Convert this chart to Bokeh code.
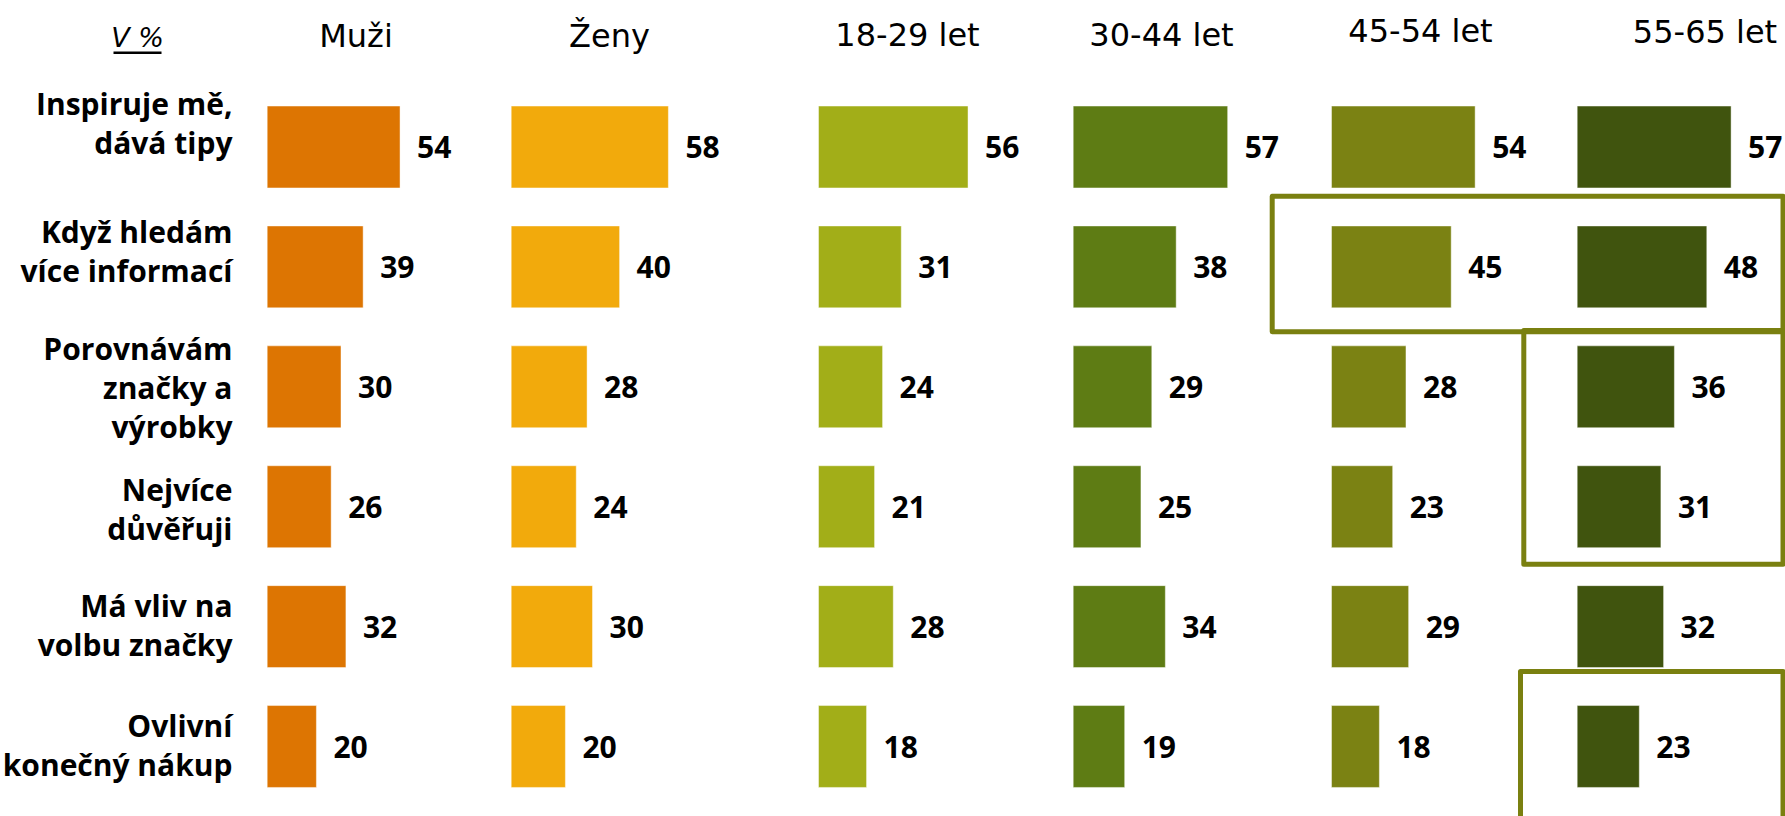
from bokeh.plotting import figure
from bokeh.models import Range1d
from bokeh.embed import file_html
from bokeh.resources import INLINE
from bokeh.core.properties import value

# ---------------- data ----------------
rows = [
    "Inspiruje mě,\ndává tipy",
    "Když hledám\nvíce informací",
    "Porovnávám\nznačky a\nvýrobky",
    "Nejvíce\ndůvěřuji",
    "Má vliv na\nvolbu značky",
    "Ovlivní\nkonečný nákup",
]
groups = ["Muži", "Ženy", "18-29 let", "30-44 let", "45-54 let", "55-65 let"]
muzi = [54, 39, 30, 26, 32, 20]
zeny = [58, 40, 28, 24, 30, 20]
age_18_29 = [56, 31, 24, 21, 28, 18]
age_30_44 = [57, 38, 29, 25, 34, 19]
age_45_54 = [54, 45, 28, 23, 29, 18]
age_55_65 = [57, 48, 36, 31, 32, 23]
series = [muzi, zeny, age_18_29, age_30_44, age_45_54, age_55_65]
unit_label = "V %"
# highlighted cells: (groups, row indices)
highlights = [
    (["45-54 let", "55-65 let"], [1]),
    (["55-65 let"], [2, 3]),
    (["55-65 let"], [5]),
]

# ---------------- layout / style ----------------
W, H = 1785, 816
ROW0, STEP = 146.5, 119.9
colors = ["#DD7502", "#F2AA0C", "#A2AE18", "#5E7C14", "#7B8213", "#40540E"]
box_color = "#7A8010"
col_start = [266.7, 510.7, 818.0, 1072.7, 1331.0, 1576.7]   # px where 0 sits
col_scale = [2.46, 2.71, 2.67, 2.71, 2.66, 2.70]            # px per percent
header_x = [355.5, 609.0, 907.0, 1161.0, 1420.0, 1704.5]
header_dy = [-0.925, -0.925, -0.935, -0.935, -0.97, -0.955]
label_dy = [-0.2, -0.13, 0.005, 0.02, -0.01, -0.01]
box_pad = [(59.3, 0.59, 0.54), (53.4, 0.47, 0.48), (56.7, 0.625, 0.75)]

BOLD_FONT = value("Open Sans")
REG_FONT = value("DejaVu Sans")

p = figure(width=W, height=H, output_backend="svg", toolbar_location=None,
           x_range=Range1d(0, W),
           y_range=Range1d((H - ROW0) / STEP, -ROW0 / STEP),
           min_border=0, outline_line_color=None)
p.axis.visible = False
p.grid.visible = False
p.background_fill_color = "white"
p.border_fill_color = "white"

idx = list(range(len(rows)))

for g, vals, c, s, k in zip(groups, series, colors, col_start, col_scale):
    p.extra_x_ranges[g] = Range1d(-s / k, (W - s) / k)
    p.hbar(y=idx, left=0, right=vals, height=0.683, x_range_name=g,
           fill_color=c, line_color="white", line_alpha=0.45, line_width=1)
    p.text(x=vals, y=idx, text=[str(v) for v in vals], x_range_name=g,
           x_offset=17, text_align="left", text_baseline="middle",
           text_font=BOLD_FONT, text_font_style="bold",
           text_font_size="30px", text_color="black")

# headers
p.text(x=header_x, y=header_dy, text=groups, text_align="center",
       text_baseline="middle", text_font=REG_FONT, text_font_size="32px",
       text_color="black")

# unit label
p.text(x=[137], y=[-0.91], text=[unit_label], text_align="center",
       text_baseline="middle", text_font=REG_FONT, text_font_style="italic",
       text_font_size="27px", text_color="black")
p.segment(x0=[113], y0=[-0.787], x1=[161], y1=[-0.787], line_color="black", line_width=2.5)

# row labels
p.text(x=[232] * len(rows), y=[i + d for i, d in zip(idx, label_dy)], text=rows,
       text_align="right", text_baseline="middle", text_font=BOLD_FONT,
       text_font_style="bold", text_font_size="30px", text_line_height=0.95,
       text_color="black")

# highlight boxes
lefts, rights, tops, bottoms = [], [], [], []
for (gs, rs), (lp, tp, bp) in zip(highlights, box_pad):
    gi = min(groups.index(g) for g in gs)
    lefts.append(col_start[gi] - lp)
    rights.append(W - 2.5)
    tops.append(min(rs) - tp)
    bottoms.append(max(rs) + bp)
p.quad(left=lefts, right=rights, top=tops, bottom=bottoms, fill_color=None,
       line_color=box_color, line_width=5, line_join="round")

open("out.html", "w").write(file_html(p, INLINE))
